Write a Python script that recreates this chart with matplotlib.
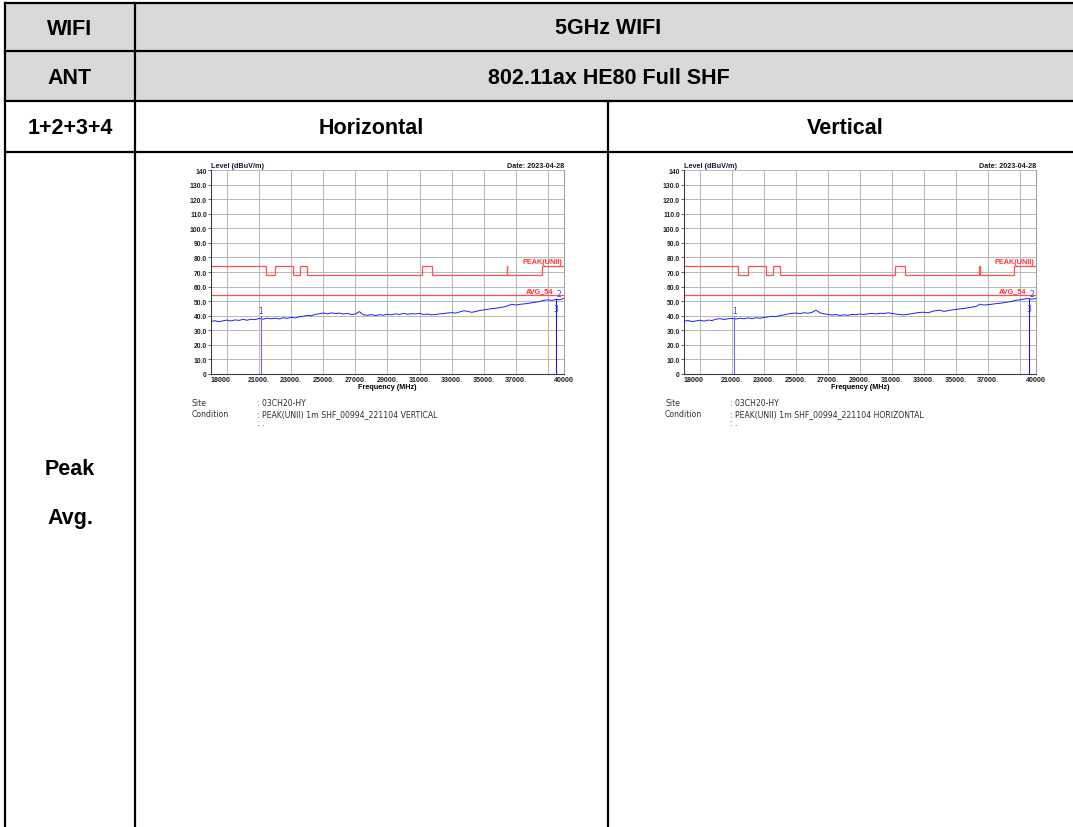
import numpy as np
import matplotlib
matplotlib.use("Agg")
import matplotlib.pyplot as plt

W, H = 1073, 828

# table texts
row_heads = ["WIFI", "ANT", "1+2+3+4"]
band_title = "5GHz WIFI"
mode_title = "802.11ax HE80 Full SHF"
pol_titles = ["Horizontal", "Vertical"]
test_items = ["Peak", "Avg."]

# sweep settings (MHz)
f_start, f_stop, f_step = 18000, 40000, 250

# measured level, dBuV/m, one value per sweep step
trace_vertical = [
    36.0, 36.6, 35.9, 36.5, 37.0, 36.4, 37.1, 36.8, 37.5, 36.9, 37.6, 37.3,
    38.1, 37.6, 38.4, 37.9, 38.3, 37.8, 38.6, 38.2, 38.9, 38.4, 39.3, 39.6,
    40.2, 40.0, 40.9, 41.3, 41.9, 41.2, 42.0, 41.5, 41.8, 41.1, 41.6, 40.8,
    41.2, 42.8, 40.6, 40.3, 40.8, 40.1, 40.7, 40.4, 41.0, 40.6, 41.3, 40.9,
    41.6, 41.0, 41.4, 41.2, 41.6, 40.9, 41.1, 40.6, 40.9, 41.3, 41.5, 41.9,
    42.1, 41.8, 42.6, 43.4, 43.0, 42.3, 42.9, 43.6, 44.0, 44.4, 44.9, 45.1,
    45.6, 46.0, 46.8, 47.9, 47.3, 47.8, 48.1, 48.4, 48.9, 49.3, 49.8, 50.6,
    50.9, 50.5, 51.2, 51.0, 52.0,
]
trace_horizontal = [
    36.2, 36.7, 36.0, 36.4, 36.9, 36.3, 37.0, 36.7, 37.6, 38.0, 37.4, 37.9,
    38.2, 37.7, 38.3, 37.9, 38.5, 38.0, 38.6, 38.3, 38.8, 39.2, 39.6, 39.3,
    40.1, 40.6, 41.2, 41.6, 41.9, 41.4, 42.1, 41.7, 42.3, 43.8, 42.0, 41.3,
    40.9, 40.5, 40.8, 40.2, 40.6, 40.3, 40.9, 40.7, 41.2, 40.8, 41.3, 41.6,
    41.2, 41.7, 41.5, 42.0, 41.6, 41.1, 40.8, 40.6, 41.0, 41.4, 41.9, 42.3,
    42.4, 42.0, 42.9, 43.5, 43.8, 42.9, 43.5, 44.0, 44.3, 44.7, 45.0, 45.4,
    45.9, 46.4, 47.9, 47.3, 47.6, 47.9, 48.3, 48.5, 49.0, 49.4, 49.9, 50.6,
    50.9, 51.5, 51.8, 51.3, 51.9,
]

# PEAK(UNII) limit as steps
limit_edges = [18000, 21400, 22000, 23100, 23575, 24000, 31175, 31800,
               36430, 36470, 38600, 40000]
limit_levels = [74, 68.2, 74, 68.2, 74, 68.2, 74, 68.2, 74, 68.2, 74]
avg_limit = 54

# markers: (freq, level) per chart
markers_vertical = [(21120, 39.5), (39500, 51.5)]
markers_horizontal = [(21130, 39.5), (39580, 51.8)]

y_ticks = list(range(0, 141, 10))
y_labels = ["0"] + [f"{v:.1f}" for v in y_ticks[1:-1]] + ["140"]
x_grid = list(range(19000, 40000, 2000))
x_ticks = [18000, 21000, 23000, 25000, 27000, 29000, 31000, 33000, 35000, 37000, 40000]
x_labels = ["18000"] + [f"{v}." for v in x_ticks[1:-1]] + ["40000"]

site = ": 03CH20-HY"
conditions = [": PEAK(UNII) 1m SHF_00994_221104 VERTICAL",
              ": PEAK(UNII) 1m SHF_00994_221104 HORIZONTAL"]

fig = plt.figure(figsize=(W / 100, H / 100), dpi=100)
fig.patch.set_facecolor("white")

# --- table drawn in pixel coordinates
tb = fig.add_axes([0, 0, 1, 1])
tb.set_xlim(0, W)
tb.set_ylim(H, 0)
tb.axis("off")

x_left, x_col1, x_col2, x_right = 5, 135, 608, 1082
y_rows = [4, 52, 102, 153]
tb.fill_between([x_left, x_right], y_rows[0], y_rows[2], color="#d9d9d9", lw=0)
for y in y_rows:
    tb.plot([x_left, x_right], [y, y], color="black", lw=1.6)
tb.plot([x_left, x_left], [y_rows[0], H], color="black", lw=1.6)
tb.plot([x_col1, x_col1], [y_rows[0], H], color="black", lw=1.6)
tb.plot([x_col2, x_col2], [y_rows[2], H], color="black", lw=1.6)

tfont = dict(family="Liberation Sans", weight="bold", fontsize=15.5,
             ha="center", va="center")
for i, txt in enumerate(row_heads):
    tb.text((x_left + x_col1) / 2, (y_rows[i] + y_rows[i + 1]) / 2 + 1.5, txt, **tfont)
tb.text((x_col1 + x_right) / 2, 29, band_title, **tfont)
tb.text((x_col1 + x_right) / 2, 78, mode_title, **tfont)
tb.text((x_col1 + x_col2) / 2, 129, pol_titles[0], **tfont)
tb.text((x_col2 + x_right) / 2, 129, pol_titles[1], **tfont)
tb.text((x_left + x_col1) / 2, 470, test_items[0], **tfont)
tb.text((x_left + x_col1) / 2, 519, test_items[1], **tfont)


def draw_chart(px_left, px_right, trace, markers, cond, txt_x):
    px_top, px_bot = 171, 375
    ax = fig.add_axes([px_left / W, 1 - px_bot / H,
                       (px_right - px_left) / W, (px_bot - px_top) / H])
    freqs = np.arange(f_start, f_stop + 1, f_step)
    ax.set_xlim(f_start, f_stop)
    ax.set_ylim(0, 140)

    for g in x_grid:
        ax.axvline(g, color="#b8b8b8", lw=0.7, zorder=0)
    for g in y_ticks[1:]:
        ax.axhline(g, color="#b8b8b8", lw=0.7, zorder=0)

    ax.stairs(limit_levels, limit_edges, baseline=None, color="#ff4f4f", lw=0.9)
    ax.axhline(avg_limit, color="#ff4f4f", lw=0.9)
    ax.plot(freqs, trace, color="#1f1fff", lw=0.7)

    (m1f, m1v), (m3f, m3v) = markers
    ax.plot([m1f, m1f], [0, m1v], color="#6b6bff", lw=0.8)
    ax.plot([m3f, m3f], [0, m3v], color="#2020b0", lw=0.8)
    mk = dict(fontsize=5.5, color="#3535ff", ha="center", family="DejaVu Sans")
    ax.text(m1f, m1v + 1.0, "1", va="bottom", **mk)
    ax.text(m3f + 150, m3v + 0.5, "2", va="bottom", **mk)
    ax.text(m3f, m3v - 3.5, "3", va="top", **mk)

    lab = dict(family="Liberation Sans", weight="bold", fontsize=5.2)
    ax.text(f_stop - 100, 74.8, "PEAK(UNII)", color="#ff3030", ha="right",
            va="bottom", **lab)
    ax.text(m3f - 180, 54.8, "AVG_54", color="#ff3030", ha="right",
            va="bottom", **lab)
    ax.text(f_start, 140.5, "Level (dBuV/m)", color="#1a1a3a", ha="left",
            va="bottom", **lab)
    ax.text(f_stop, 140.5, "Date: 2023-04-28", color="#1a1a1a", ha="right",
            va="bottom", **lab)

    ax.set_yticks(y_ticks)
    ax.set_yticklabels(y_labels, family="Liberation Sans", weight="bold",
                       fontsize=4.9, color="#202020")
    ax.set_xticks(x_ticks)
    ax.set_xticklabels(x_labels, family="Liberation Sans", weight="bold",
                       fontsize=5.1, color="#202020")
    ax.get_xticklabels()[0].set_ha("left")
    ax.tick_params(axis="y", length=2, width=0.6, pad=1, color="#404040")
    ax.tick_params(axis="x", length=0, pad=1.5)
    ax.set_xlabel("Frequency (MHz)", labelpad=0.3, **lab)

    ax.spines["top"].set_visible(False)
    ax.spines["left"].set_color("#404040")
    ax.spines["bottom"].set_color("#404040")
    ax.spines["right"].set_color("#a0a0a0")
    for s in ax.spines.values():
        s.set_linewidth(0.8)

    small = dict(family="DejaVu Sans", fontsize=5.6, color="#303030", va="center")
    tb.text(txt_x, 403.5, "Site", **small)
    tb.text(txt_x, 414.5, "Condition", **small)
    tb.text(txt_x + 65, 403.5, site, **small)
    tb.text(txt_x + 65, 414.5, cond, **small)
    tb.text(txt_x + 65, 424, ": .", **small)
    return ax


draw_chart(211, 564, trace_vertical, markers_vertical, conditions[0], 192)
draw_chart(684, 1036, trace_horizontal, markers_horizontal, conditions[1], 665)

fig.savefig("out.png", dpi=100, facecolor="white")
